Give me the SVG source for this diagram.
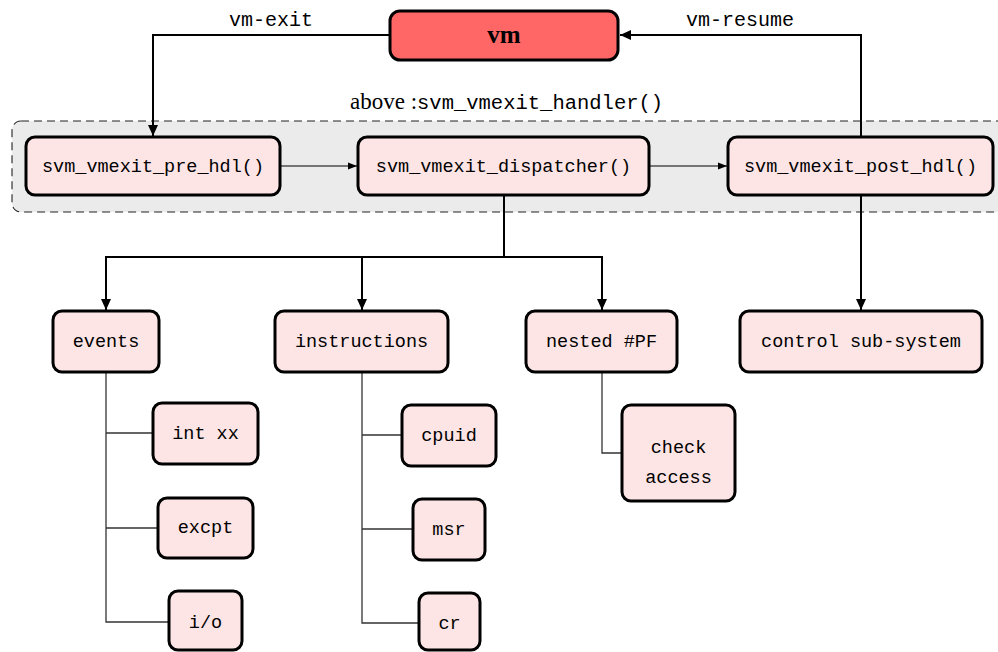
<svg xmlns="http://www.w3.org/2000/svg" width="998" height="652" viewBox="0 0 998 652">
<defs>
<marker id="ah" markerUnits="userSpaceOnUse" markerWidth="12" markerHeight="12" refX="11" refY="5" orient="auto"><path d="M0,0 L11,5 L0,10 Z" fill="#000"/></marker>
<marker id="as" markerUnits="userSpaceOnUse" markerWidth="10" markerHeight="10" refX="9" refY="4" orient="auto"><path d="M0,0.5 L9,4 L0,7.5 Z" fill="#000"/></marker>
<style>
.box{fill:#fde5e5;stroke:#000;stroke-width:3}
.vm{fill:#ff6666;stroke:#000;stroke-width:3}
.t{font-family:"Liberation Mono","DejaVu Sans Mono",monospace;font-size:18.5px;text-anchor:middle;fill:#000}
.lbl{font-family:"Liberation Mono","DejaVu Sans Mono",monospace;font-size:20px;text-anchor:middle;fill:#000}
.thick{fill:none;stroke:#000;stroke-width:2}
.thin{fill:none;stroke:#000;stroke-width:1.2}
.br{fill:none;stroke:#333;stroke-width:1.3}
</style>
</defs>
<rect x="12" y="121" width="1000" height="91" rx="9" fill="#ebebeb" stroke="#222" stroke-width="1.1" stroke-dasharray="8,5"/>
<text x="350" y="109" font-family="Liberation Serif,serif" font-size="23" fill="#000">above :<tspan font-family="Liberation Mono,monospace" font-size="20.5">svm_vmexit_handler()</tspan></text>
<g id="connectors">
<path class="thick" d="M390,35 H153 V136" marker-end="url(#ah)"/>
<path class="thick" d="M861,137 V35 H620" marker-end="url(#ah)"/>
<path class="thin" d="M281,166 H357" marker-end="url(#as)"/>
<path class="thin" d="M650,166 H727" marker-end="url(#as)"/>
<path class="thick" d="M504,195 V257"/>
<path class="thick" d="M106,310 V257 H602 V310" marker-end="url(#ah)"/>
<path class="thick" d="M106,257 V310" marker-end="url(#ah)"/>
<path class="thick" d="M362,257 V310" marker-end="url(#ah)"/>
<path class="thick" d="M861,195 V310" marker-end="url(#ah)"/>
<path class="br" d="M106,372 V622 H169 M106,433 H153 M106,528 H158"/>
<path class="br" d="M362,372 V623 H419 M362,435 H402 M362,529 H413"/>
<path class="br" d="M602,372 V453 H622"/>
</g>
<text class="lbl" x="271" y="26">vm-exit</text>
<text class="lbl" x="740" y="26">vm-resume</text>
<g id="vm"><rect class="vm" x="390" y="11" width="228" height="49" rx="10"/><text x="504" y="43" font-family="Liberation Serif,serif" font-weight="bold" font-size="25" text-anchor="middle">vm</text></g>
<g id="pre"><rect class="box" x="26" y="137" width="254" height="58" rx="9"/><text class="t" x="153" y="172">svm_vmexit_pre_hdl()</text></g>
<g id="dispatcher"><rect class="box" x="358" y="137" width="291" height="58" rx="9"/><text class="t" x="503.5" y="172">svm_vmexit_dispatcher()</text></g>
<g id="post"><rect class="box" x="728" y="137" width="265" height="58" rx="9"/><text class="t" x="860.5" y="172">svm_vmexit_post_hdl()</text></g>
<g id="events"><rect class="box" x="53" y="311" width="106" height="61" rx="9"/><text class="t" x="106" y="347">events</text></g>
<g id="instructions"><rect class="box" x="275" y="311" width="173" height="61" rx="9"/><text class="t" x="361.5" y="347">instructions</text></g>
<g id="nested"><rect class="box" x="526" y="311" width="151" height="61" rx="9"/><text class="t" x="601.5" y="347">nested #PF</text></g>
<g id="control"><rect class="box" x="740" y="311" width="242" height="61" rx="9"/><text class="t" x="861" y="347">control sub-system</text></g>
<g id="intxx"><rect class="box" x="153" y="403" width="105" height="61" rx="9"/><text class="t" x="205.5" y="439">int xx</text></g>
<g id="excpt"><rect class="box" x="158" y="498" width="95" height="60" rx="9"/><text class="t" x="205.5" y="533">excpt</text></g>
<g id="io"><rect class="box" x="169" y="591" width="73" height="59" rx="9"/><text class="t" x="205.5" y="628">i/o</text></g>
<g id="cpuid"><rect class="box" x="402" y="405" width="94" height="61" rx="9"/><text class="t" x="449" y="441">cpuid</text></g>
<g id="msr"><rect class="box" x="413" y="499" width="72" height="61" rx="9"/><text class="t" x="449" y="535">msr</text></g>
<g id="cr"><rect class="box" x="419" y="593" width="61" height="57" rx="9"/><text class="t" x="449.5" y="629">cr</text></g>
<g id="check"><rect class="box" x="622" y="405" width="113" height="96" rx="9"/><text class="t" x="678.5" y="453">check</text><text class="t" x="678.5" y="483">access</text></g>
</svg>
